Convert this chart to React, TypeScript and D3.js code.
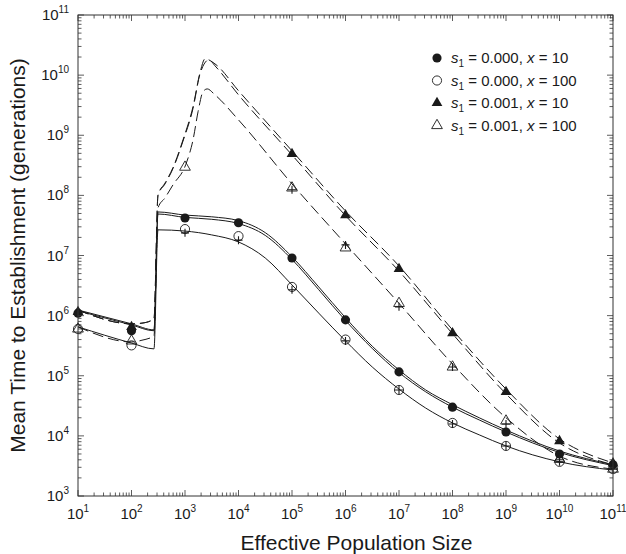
import React from 'react';
import * as d3 from 'd3';

const W = 626;
const H = 554;
const margin = { top: 15, right: 13, bottom: 58, left: 78 };

// simulation points, one per decade of Ne
const simN = [1e1, 1e2, 1e3, 1e4, 1e5, 1e6, 1e7, 1e8, 1e9, 1e10, 1e11];
const filledCircle = [1.1e6, 5.6e5, 4.2e7, 3.5e7, 9.1e6, 8.5e5, 1.16e5, 3.0e4, 1.16e4, 5.0e3, 3.3e3];
const openCircle = [6.0e5, 3.2e5, 2.75e7, 2.1e7, 3.0e6, 4.0e5, 5.8e4, 1.64e4, 6.8e3, 3.7e3, 2.8e3];
const filledTriangle = [1.15e6, 6.5e5, null, null, 4.9e8, 4.7e7, 6.0e6, 5.1e5, 5.4e4, 8.2e3, 3.5e3];
const openTriangle = [6.0e5, 3.8e5, 2.95e8, null, 1.33e8, 1.34e7, 1.6e6, 1.4e5, 1.77e4, 4.1e3, 2.8e3];
const crossLow = [null, null, 2.38e7, 1.8e7, 2.7e6, 3.8e5, 5.8e4, 1.58e4, 6.8e3, 3.7e3, 2.8e3];
const crossHigh = [null, null, null, null, 1.24e8, 1.5e7, 1.4e6, 1.4e5, 1.58e4, 4.0e3, null];

// analytic curves, s1 = 0 (solid)
const solidN = [10, 100, 263, 313, 1000, 3160, 1e4, 3.16e4, 1e5, 3.16e5, 1e6, 3.16e6, 1e7, 3.16e7, 1e8, 3.16e8, 1e9, 1e10, 1e11];
const solidA1 = [1.24e6, 7.3e5, 5.8e5, 5.3e7, 4.7e7, 4.4e7, 3.8e7, 2.4e7, 9.5e6, 3.0e6, 9.2e5, 3.1e5, 1.25e5, 5.8e4, 3.3e4, 2.0e4, 1.25e4, 5.6e3, 3.3e3];
const solidA2 = [1.2e6, 7.0e5, 5.6e5, 4.9e7, 4.3e7, 4.0e7, 3.4e7, 2.16e7, 8.6e6, 2.7e6, 8.3e5, 2.85e5, 1.13e5, 5.4e4, 3.0e4, 1.84e4, 1.16e4, 5.3e3, 3.2e3];
const solidB = [6.5e5, 3.5e5, 2.8e5, 2.67e7, 2.55e7, 2.2e7, 1.68e7, 9.1e6, 3.24e6, 1.1e6, 3.8e5, 1.4e5, 6.0e4, 2.9e4, 1.64e4, 1.04e4, 6.8e3, 3.7e3, 2.7e3];

// analytic curves, s1 = 0.001 (dashed)
const dashA1N = [10, 100, 157, 263, 313, 423, 597, 918, 1413, 1910, 2370, 3630, 1e4, 1e5, 1e6, 1e7, 1e8, 1e9, 1e10, 1e11];
const dashA1 = [1.24e6, 7.3e5, 7.5e5, 8.8e5, 1.02e8, 1.6e8, 2.9e8, 8.4e8, 3.0e9, 1.1e10, 1.87e10, 1.54e10, 5.5e9, 5.5e8, 5.5e7, 6.7e6, 5.8e5, 6.0e4, 8.9e3, 3.55e3];
const dashA2N = [10, 100, 157, 263, 313, 423, 597, 918, 1413, 1910, 2810, 3630, 1e4, 1e5, 1e6, 1e7, 1e8, 1e9, 1e10, 1e11];
const dashA2 = [1.24e6, 7.3e5, 7.5e5, 8.8e5, 1.0e8, 1.55e8, 2.8e8, 8.0e8, 2.8e9, 1.05e10, 1.8e10, 1.43e10, 4.7e9, 4.7e8, 4.6e7, 5.5e6, 5.0e5, 5.0e4, 7.6e3, 3.3e3];
const dashBN = [10, 100, 157, 263, 313, 423, 597, 1040, 1413, 1760, 2170, 2600, 3630, 1e4, 1e5, 1e6, 1e7, 1e8, 1e9, 1e10, 1e11];
const dashB = [6.5e5, 3.65e5, 3.9e5, 4.6e5, 6.2e7, 9.1e7, 1.5e8, 3.3e8, 8.4e8, 2.5e9, 5.3e9, 5.9e9, 4.7e9, 1.8e9, 1.55e8, 1.56e7, 1.6e6, 1.57e5, 2.0e4, 4.6e3, 2.8e3];

const xExponents = [1, 2, 3, 4, 5, 6, 7, 8, 9, 10, 11];
const yExponents = [3, 4, 5, 6, 7, 8, 9, 10, 11];

const legendLabels = [
  { kind: 'filledCircle', s: '0.000', x: '10' },
  { kind: 'openCircle', s: '0.000', x: '100' },
  { kind: 'filledTriangle', s: '0.001', x: '10' },
  { kind: 'openTriangle', s: '0.001', x: '100' },
];

const FONT = '"Liberation Sans", Arial, Helvetica, sans-serif';
const INK = '#1a1a1a';

const circlePath = d3.symbol().type(d3.symbolCircle).size(66)() as string;
const trianglePath = d3.symbol().type(d3.symbolTriangle).size(50)() as string;

function Marker({ kind, cx, cy }: { kind: string; cx: number; cy: number }) {
  const t = `translate(${cx},${cy})`;
  if (kind === 'filledCircle') return <path d={circlePath} transform={t} fill={INK} />;
  if (kind === 'openCircle') return <path d={circlePath} transform={t} fill="none" stroke={INK} strokeWidth={0.9} />;
  if (kind === 'filledTriangle') return <path d={trianglePath} transform={t} fill={INK} />;
  if (kind === 'openTriangle') return <path d={trianglePath} transform={t} fill="none" stroke={INK} strokeWidth={0.9} />;
  return <path d="M-4,0H4M0,-4V4" transform={t} stroke={INK} strokeWidth={1.1} />;
}

export default function App() {
  const x = d3.scaleLog().domain([1e1, 1e11]).range([margin.left, W - margin.right]);
  const y = d3.scaleLog().domain([1e3, 1e11]).range([H - margin.bottom, margin.top]);
  const [x0, x1] = x.range();
  const [y0, y1] = y.range();

  const line = d3
    .line<[number, number]>()
    .x((d) => x(d[0]))
    .y((d) => y(d[1]))
    .curve(d3.curveMonotoneX);

  const curves = [
    { n: solidN, t: solidA1, dash: undefined },
    { n: solidN, t: solidA2, dash: undefined },
    { n: solidN, t: solidB, dash: undefined },
    { n: dashA1N, t: dashA1, dash: '11,5' },
    { n: dashA2N, t: dashA2, dash: '11,5' },
    { n: dashBN, t: dashB, dash: '11,5' },
  ];

  const markerSeries = [
    { kind: 'filledCircle', v: filledCircle },
    { kind: 'openCircle', v: openCircle },
    { kind: 'filledTriangle', v: filledTriangle },
    { kind: 'openTriangle', v: openTriangle },
    { kind: 'cross', v: crossLow },
    { kind: 'cross', v: crossHigh },
  ];

  // minor + major ticks for each log axis
  const xTicks: { v: number; major: boolean }[] = [];
  d3.range(1, 11).forEach((e) =>
    d3.range(1, 10).forEach((m) => xTicks.push({ v: m * Math.pow(10, e), major: m === 1 }))
  );
  xTicks.push({ v: 1e11, major: true });
  const yTicks: { v: number; major: boolean }[] = [];
  d3.range(3, 11).forEach((e) =>
    d3.range(1, 10).forEach((m) => yTicks.push({ v: m * Math.pow(10, e), major: m === 1 }))
  );
  yTicks.push({ v: 1e11, major: true });

  return (
    <>
      <style>{'body{margin:0}'}</style>
      <svg width={W} height={H} style={{ display: 'block', fontFamily: FONT }}>
        <rect width={W} height={H} fill="#fff" />

        {/* curves */}
        <g fill="none" stroke={INK} strokeWidth={1}>
          {curves.map((c, i) => (
            <path
              key={i}
              d={line(c.n.map((n, j) => [n, c.t[j]] as [number, number])) as string}
              strokeDasharray={c.dash}
            />
          ))}
        </g>

        {/* simulation markers */}
        <g>
          {markerSeries.map((s, i) =>
            s.v.map((v, j) =>
              v == null ? null : <Marker key={`${i}-${j}`} kind={s.kind} cx={x(simN[j])} cy={y(v)} />
            )
          )}
        </g>

        {/* frame */}
        <rect x={x0} y={y1} width={x1 - x0} height={y0 - y1} fill="none" stroke="#333" strokeWidth={1} />
        <g stroke="#333" strokeWidth={0.8}>
          {xTicks.map((t, i) => {
            const px = x(t.v);
            const len = t.major ? 6 : 3.5;
            return (
              <g key={i}>
                <line x1={px} x2={px} y1={y0} y2={y0 - len} />
                <line x1={px} x2={px} y1={y1} y2={y1 + len} />
              </g>
            );
          })}
          {yTicks.map((t, i) => {
            const py = y(t.v);
            const len = t.major ? 6 : 3.5;
            return (
              <g key={i}>
                <line x1={x0} x2={x0 + len} y1={py} y2={py} />
                <line x1={x1} x2={x1 - len} y1={py} y2={py} />
              </g>
            );
          })}
        </g>

        {/* tick labels */}
        <g fill={INK} fontSize={15}>
          {xExponents.map((e) => (
            <text key={e} x={x(Math.pow(10, e))} y={y0 + 23} textAnchor="middle">
              10<tspan fontSize={10} dy={-7}>{e}</tspan>
            </text>
          ))}
          {yExponents.map((e) => (
            <text key={e} x={x0 - 9} y={y(Math.pow(10, e)) + 5} textAnchor="end">
              10<tspan fontSize={10} dy={-7}>{e}</tspan>
            </text>
          ))}
        </g>

        {/* axis titles */}
        <text x={(x0 + x1) / 2 + 11} y={550} textAnchor="middle" fontSize={21} fill={INK}>
          Effective Population Size
        </text>
        <text
          transform={`translate(25,${(y0 + y1) / 2}) rotate(-90)`}
          textAnchor="middle"
          fontSize={21}
          fill={INK}
        >
          Mean Time to Establishment (generations)
        </text>

        {/* legend */}
        <g fill={INK} fontSize={15} style={{ whiteSpace: 'pre' }}>
          {legendLabels.map((l, i) => {
            const cy = 58 + i * 22.5;
            return (
              <g key={i}>
                <Marker kind={l.kind} cx={437} cy={cy} />
                <text x={451} y={cy + 5}>
                  <tspan fontStyle="italic">s</tspan>
                  <tspan fontSize={10} dy={4}>1</tspan>
                  <tspan dy={-4}>{` = ${l.s}, `}</tspan>
                  <tspan fontStyle="italic">x</tspan>
                  <tspan>{` = ${l.x}`}</tspan>
                </text>
              </g>
            );
          })}
        </g>
      </svg>
    </>
  );
}
